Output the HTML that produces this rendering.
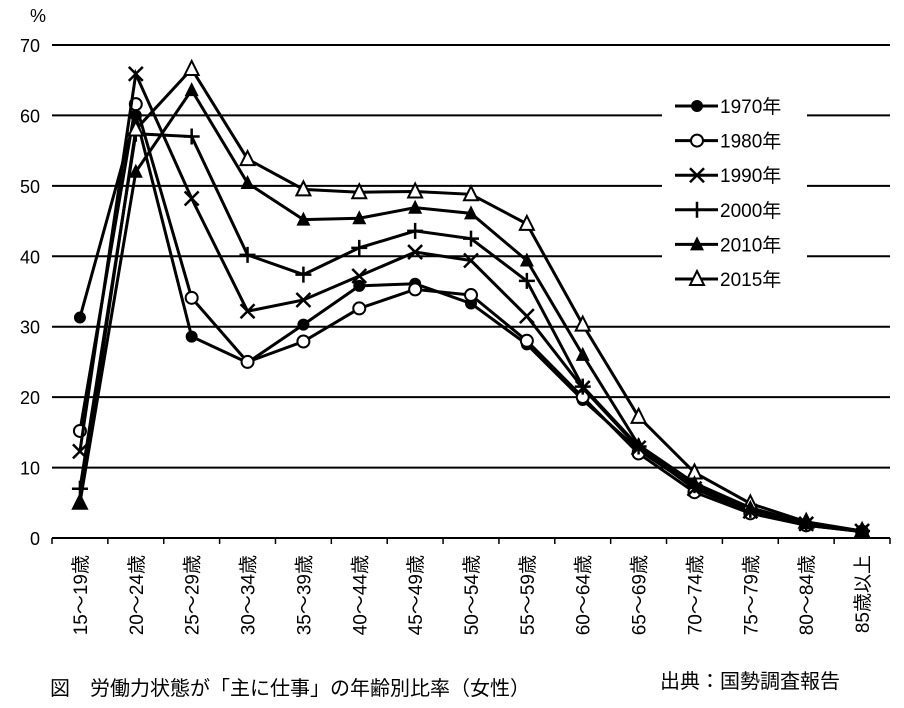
<!DOCTYPE html>
<html><head><meta charset="utf-8"><style>
body{margin:0;background:#fff;}
svg text{font-family:"Liberation Sans","Noto Sans CJK JP",sans-serif;fill:#000;}
</style></head><body>
<svg id="chart" width="904" height="703" xmlns="http://www.w3.org/2000/svg">
<g id="grid"></g><g id="series"></g><g id="legend"></g>
<text x="30" y="22" font-size="18">%</text>
<text x="50" y="695" font-size="20">図　労働力状態が「主に仕事」の年齢別比率（女性）</text>
<text x="660" y="688" font-size="20">出典：国勢調査報告</text>
</svg>
<script>
const categories=["15～19歳","20～24歳","25～29歳","30～34歳","35～39歳","40～44歳","45～49歳","50～54歳","55～59歳","60～64歳","65～69歳","70～74歳","75～79歳","80～84歳","85歳以上"];
const yTicks=[0,10,20,30,40,50,60,70];
const seriesNames=["1970年","1980年","1990年","2000年","2010年","2015年"];
const s1970=[31.3,60.0,28.6,24.9,30.3,35.8,36.1,33.3,27.5,19.6,12.5,7.2,3.7,1.8,0.9];
const s1980=[15.2,61.6,34.1,25.0,27.9,32.6,35.3,34.5,28.0,20.0,12.0,6.5,3.5,1.8,0.9];
const s1990=[12.3,65.9,48.2,32.2,33.8,37.2,40.6,39.4,31.5,21.3,12.8,7.0,3.8,2.0,1.0];
const s2000=[7.0,57.4,57.0,40.2,37.4,41.2,43.6,42.5,36.5,21.5,13.0,7.5,4.0,2.0,1.0];
const s2015=[5.0,58.0,66.6,53.8,49.5,49.1,49.2,48.8,44.6,30.3,17.2,9.3,4.9,2.3,1.0];
const s2010=[5.0,52.0,63.6,50.4,45.2,45.4,46.9,46.1,39.4,26.0,13.2,7.8,4.3,2.1,1.0];
const allSeries=[s1970,s1980,s1990,s2000,s2015,s2010];
const drawNames=["1970年","1980年","1990年","2000年","2015年","2010年"];
const drawMarkers=["dot","circle","x","plus","otri","tri"];
const markers=["dot","circle","x","plus","tri","otri"];
const NS="http://www.w3.org/2000/svg";
const L=52,R=890,T=45,B=538,yMax=70;
const bw=(R-L)/categories.length;
const xs=i=>L+bw*(i+0.5);
const ys=v=>B-(v/yMax)*(B-T);
function mk(tag,attrs,parent){const e=document.createElementNS(NS,tag);for(const k in attrs)e.setAttribute(k,attrs[k]);parent.appendChild(e);return e;}
const grid=document.getElementById('grid');
yTicks.forEach(v=>{
 if(v>0){const g=mk('line',{x1:L,x2:R,y1:ys(v),y2:ys(v),stroke:'#000','stroke-width':2},grid);
 
 }
 const t=mk('text',{x:40,y:ys(v)+7,'font-size':18,'text-anchor':'end'},grid);t.textContent=v;
 
 
});
const ax=mk('line',{x1:L,x2:R,y1:B,y2:B,stroke:'#000','stroke-width':2},grid);


for(let i=0;i<=categories.length;i++){mk('line',{x1:L+bw*i,x2:L+bw*i,y1:B,y2:B+6,stroke:'#000','stroke-width':1.5},grid);}
categories.forEach((c,i)=>{
 const t=mk('text',{x:0,y:0,'font-size':19,'text-anchor':'end',transform:`translate(${xs(i)+7},555) rotate(-90)`},grid);
 t.textContent=c;
 
 
});
function marker(type,x,y,p){
 if(type==='dot')mk('circle',{cx:x,cy:y,r:6,fill:'#000'},p);
 else if(type==='circle')mk('circle',{cx:x,cy:y,r:6,fill:'#fff',stroke:'#000','stroke-width':2},p);
 else if(type==='x')mk('path',{d:`M${x-7} ${y-7}L${x+7} ${y+7}M${x-7} ${y+7}L${x+7} ${y-7}`,stroke:'#000','stroke-width':2.5},p);
 else if(type==='plus')mk('path',{d:`M${x-8} ${y}L${x+8} ${y}M${x} ${y-8}L${x} ${y+8}`,stroke:'#000','stroke-width':2.5},p);
 else if(type==='tri')mk('path',{d:`M${x} ${y-8}L${x+7} ${y+6}L${x-7} ${y+6}Z`,fill:'#000'},p);
 else mk('path',{d:`M${x} ${y-8}L${x+7} ${y+6}L${x-7} ${y+6}Z`,fill:'#fff',stroke:'#000','stroke-width':2},p);
}
const sg=document.getElementById('series');
allSeries.forEach((s,k)=>{
 const g=mk('g',{},sg);
 
 
 mk('polyline',{points:s.map((v,i)=>xs(i)+','+ys(v)).join(' '),fill:'none',stroke:'#000','stroke-width':3},g);
 s.forEach((v,i)=>marker(drawMarkers[k],xs(i),ys(v),g));
});
const lg=document.getElementById('legend');


mk('rect',{x:662,y:90,width:145,height:205,fill:'#fff'},lg);
seriesNames.forEach((n,k)=>{
 const y=106+k*34.6;
 const e=mk('g',{},lg);
 
 
 mk('line',{x1:675,x2:718,y1:y,y2:y,stroke:'#000','stroke-width':3},e);
 marker(markers[k],697,y,e);
 const t=mk('text',{x:720,y:y+7,'font-size':19},e);t.textContent=n;
});
</script>
</body></html>
